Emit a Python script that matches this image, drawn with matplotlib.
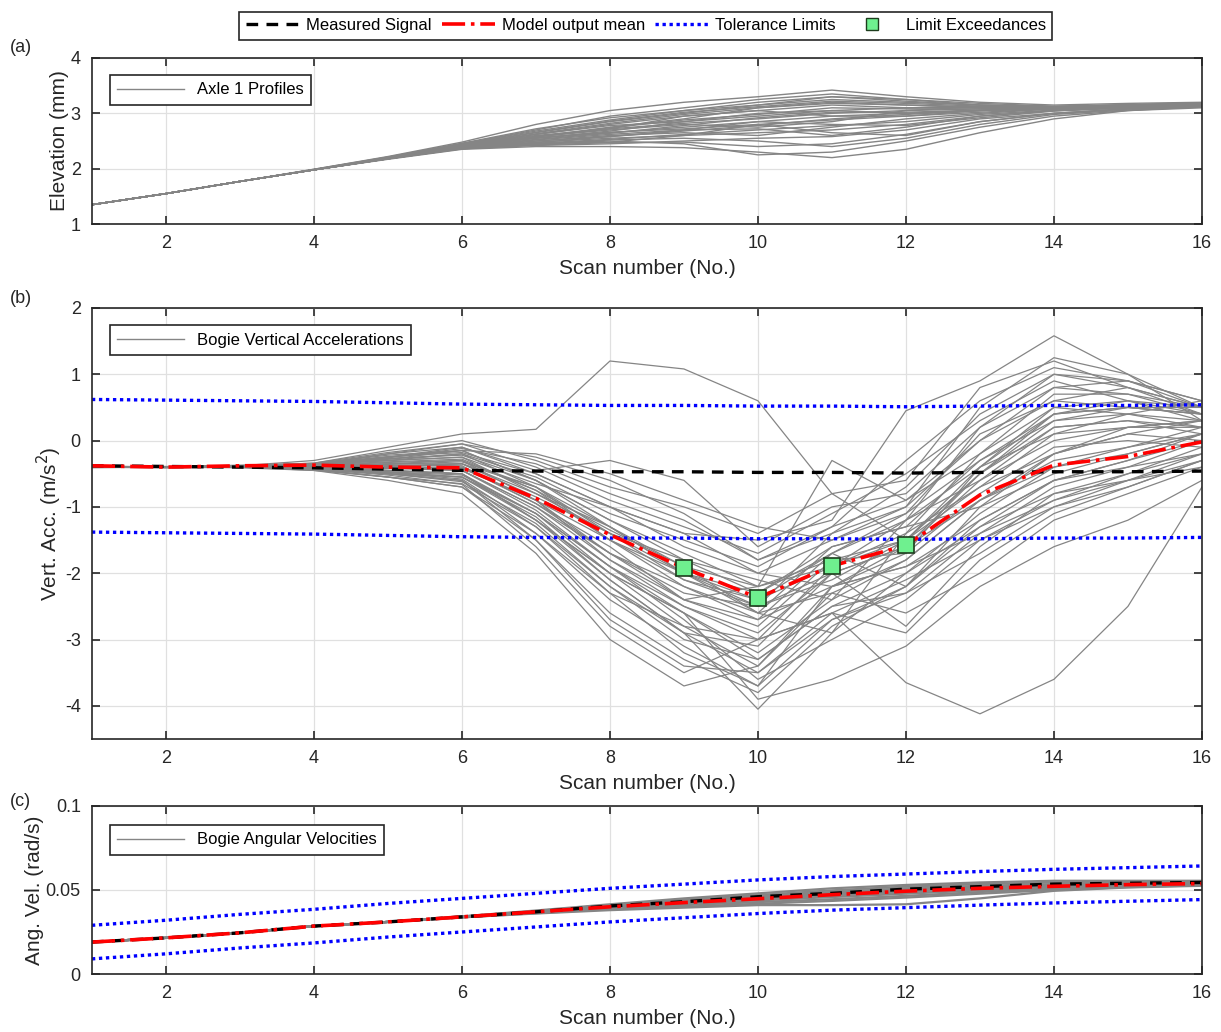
from matplotlib import pyplot as plt
from matplotlib.lines import Line2D
import numpy as np

plt.rcParams['font.family'] = ['Liberation Sans', 'DejaVu Sans']
plt.rcParams['axes.unicode_minus'] = False

scans = np.arange(1, 17)

# (a) axle 1 elevation profiles (mm)
axle_profiles = [
    [1.35, 1.55, 1.77, 1.99, 2.22, 2.48, 2.80, 3.05, 3.20, 3.30, 3.42, 3.30, 3.20, 3.15, 3.18, 3.20],
    [1.35, 1.55, 1.77, 1.98, 2.17, 2.35, 2.40, 2.40, 2.38, 2.30, 2.20, 2.35, 2.65, 2.90, 3.05, 3.12],
    [1.35, 1.55, 1.77, 1.98, 2.18, 2.38, 2.45, 2.50, 2.45, 2.25, 2.30, 2.50, 2.75, 2.95, 3.05, 3.10],
    [1.35, 1.55, 1.77, 1.99, 2.21, 2.45, 2.70, 2.95, 3.10, 3.25, 3.35, 3.25, 3.15, 3.12, 3.15, 3.18],
    [1.35, 1.55, 1.77, 1.98, 2.20, 2.42, 2.62, 2.80, 2.95, 3.05, 3.15, 3.10, 3.10, 3.10, 3.15, 3.18],
    [1.35, 1.55, 1.77, 1.98, 2.19, 2.40, 2.55, 2.65, 2.75, 2.85, 2.95, 3.00, 3.05, 3.08, 3.12, 3.15],
    [1.35, 1.55, 1.77, 1.98, 2.18, 2.38, 2.48, 2.55, 2.60, 2.65, 2.70, 2.80, 2.95, 3.05, 3.10, 3.15],
    [1.35, 1.55, 1.77, 1.98, 2.19, 2.40, 2.58, 2.75, 2.90, 3.10, 3.20, 3.15, 3.10, 3.10, 3.12, 3.16],
    [1.35, 1.55, 1.77, 1.98, 2.18, 2.36, 2.42, 2.45, 2.50, 2.55, 2.58, 2.70, 2.90, 3.00, 3.08, 3.14],
    [1.35, 1.55, 1.77, 1.98, 2.20, 2.44, 2.65, 2.85, 3.00, 3.15, 3.25, 3.20, 3.15, 3.12, 3.14, 3.18],
    [1.35, 1.55, 1.77, 1.98, 2.19, 2.41, 2.58, 2.70, 2.80, 2.75, 2.85, 3.05, 3.12, 3.12, 3.15, 3.17],
    [1.35, 1.55, 1.77, 1.98, 2.18, 2.37, 2.45, 2.48, 2.60, 2.80, 2.65, 2.60, 2.85, 3.00, 3.08, 3.12],
    [1.35, 1.55, 1.77, 1.98, 2.19, 2.39, 2.52, 2.62, 2.70, 2.72, 2.60, 2.75, 2.95, 3.05, 3.10, 3.14],
    [1.35, 1.55, 1.77, 1.98, 2.20, 2.43, 2.62, 2.78, 2.85, 2.95, 3.05, 3.10, 3.12, 3.12, 3.14, 3.17],
    [1.35, 1.55, 1.77, 1.98, 2.18, 2.37, 2.43, 2.47, 2.48, 2.40, 2.45, 2.62, 2.85, 3.00, 3.08, 3.13],
    [1.35, 1.55, 1.77, 1.98, 2.19, 2.40, 2.55, 2.68, 2.85, 3.00, 3.05, 3.00, 3.05, 3.10, 3.13, 3.16],
    [1.35, 1.55, 1.77, 1.98, 2.21, 2.46, 2.72, 2.92, 3.05, 3.15, 3.30, 3.22, 3.15, 3.12, 3.16, 3.19],
    [1.35, 1.55, 1.77, 1.98, 2.18, 2.36, 2.44, 2.52, 2.55, 2.50, 2.40, 2.55, 2.80, 2.98, 3.06, 3.12],
    [1.35, 1.55, 1.77, 1.98, 2.19, 2.39, 2.50, 2.60, 2.65, 2.60, 2.75, 2.90, 3.00, 3.08, 3.12, 3.15],
    [1.35, 1.55, 1.77, 1.98, 2.20, 2.42, 2.60, 2.72, 2.95, 3.05, 2.95, 2.95, 3.05, 3.10, 3.14, 3.17],
    [1.35, 1.55, 1.77, 1.98, 2.20, 2.45, 2.68, 2.88, 3.05, 3.20, 3.30, 3.25, 3.18, 3.13, 3.15, 3.18],
    [1.35, 1.55, 1.77, 1.98, 2.19, 2.40, 2.58, 2.72, 2.82, 2.90, 3.00, 3.05, 3.08, 3.10, 3.13, 3.16],
    [1.35, 1.55, 1.77, 1.98, 2.18, 2.37, 2.46, 2.53, 2.62, 2.70, 2.78, 2.85, 2.98, 3.06, 3.11, 3.14],
    [1.35, 1.55, 1.77, 1.98, 2.20, 2.43, 2.63, 2.82, 2.98, 3.10, 3.18, 3.15, 3.12, 3.11, 3.14, 3.17],
    [1.35, 1.55, 1.77, 1.98, 2.19, 2.41, 2.56, 2.66, 2.72, 2.80, 2.88, 2.95, 3.02, 3.08, 3.12, 3.15],
    [1.35, 1.55, 1.77, 1.98, 2.18, 2.38, 2.50, 2.58, 2.68, 2.78, 2.90, 2.98, 3.05, 3.09, 3.12, 3.15],
    [1.35, 1.55, 1.77, 1.98, 2.20, 2.44, 2.66, 2.86, 3.02, 3.12, 3.22, 3.18, 3.13, 3.11, 3.14, 3.18],
    [1.35, 1.55, 1.77, 1.98, 2.19, 2.39, 2.53, 2.64, 2.78, 2.92, 3.02, 3.02, 3.06, 3.09, 3.13, 3.16],
    [1.35, 1.55, 1.77, 1.98, 2.18, 2.37, 2.47, 2.58, 2.70, 2.85, 2.80, 2.78, 2.92, 3.04, 3.10, 3.14],
    [1.35, 1.55, 1.77, 1.98, 2.19, 2.40, 2.57, 2.74, 2.88, 2.98, 3.10, 3.08, 3.08, 3.10, 3.13, 3.17],
]

# (b) bogie vertical accelerations (m/s^2)
acc_runs = [
    [-0.40, -0.40, -0.38, -0.30, -0.10, 0.10, 0.17, 1.20, 1.08, 0.60, -0.80, -1.50, -0.50, 0.40, 0.50, 0.40],
    [-0.40, -0.40, -0.40, -0.45, -0.55, -0.70, -1.40, -2.30, -2.80, -3.00, -2.60, -3.65, -4.12, -3.60, -2.50, -0.70],
    [-0.39, -0.40, -0.39, -0.40, -0.45, -0.50, -1.20, -2.00, -2.60, -3.20, -2.40, -1.80, -0.90, -0.30, -0.10, 0.10],
    [-0.40, -0.41, -0.40, -0.42, -0.50, -0.60, -1.50, -2.60, -3.30, -3.80, -2.80, -2.20, -1.20, -0.60, -0.30, 0.00],
    [-0.38, -0.40, -0.37, -0.35, -0.30, -0.25, -0.80, -1.40, -2.00, -2.40, -1.70, -1.20, 0.20, 1.00, 0.90, 0.50],
    [-0.40, -0.40, -0.38, -0.36, -0.20, -0.10, -0.50, -1.00, -1.60, -2.00, -1.50, -1.00, 0.50, 1.25, 1.00, 0.30],
    [-0.40, -0.40, -0.39, -0.38, -0.35, -0.30, -0.90, -1.80, -2.50, -2.90, -2.00, -1.60, -0.50, 0.20, 0.30, 0.20],
    [-0.40, -0.40, -0.41, -0.45, -0.60, -0.80, -1.70, -3.00, -3.70, -3.40, -2.30, -2.60, -2.00, -1.20, -0.80, -0.40],
    [-0.40, -0.39, -0.38, -0.35, -0.25, -0.15, -0.60, -1.20, -1.70, -2.20, -1.90, -1.40, -0.70, 0.10, 0.40, 0.60],
    [-0.41, -0.40, -0.40, -0.40, -0.40, -0.35, -0.80, -1.30, -1.90, -2.60, -1.60, -1.30, -1.00, -0.20, 0.10, 0.30],
    [-0.40, -0.40, -0.39, -0.37, -0.30, -0.20, -0.70, -1.50, -2.20, -2.70, -2.20, -1.90, -1.20, -0.60, -0.40, -0.20],
    [-0.40, -0.40, -0.40, -0.42, -0.48, -0.55, -1.10, -1.90, -2.70, -3.60, -3.00, -2.40, -1.50, -0.90, -0.60, -0.30],
    [-0.39, -0.40, -0.38, -0.34, -0.15, 0.00, -0.30, -0.70, -1.00, -1.40, -0.80, -0.60, 0.80, 1.20, 0.80, 0.40],
    [-0.40, -0.40, -0.39, -0.38, -0.40, -0.45, -1.00, -1.70, -2.30, -2.50, -2.10, -1.50, -0.40, 0.50, 0.60, 0.30],
    [-0.40, -0.41, -0.40, -0.44, -0.55, -0.65, -1.30, -2.20, -3.00, -3.30, -2.50, -2.00, -1.10, -0.40, -0.20, 0.10],
    [-0.40, -0.40, -0.38, -0.36, -0.28, -0.20, -0.55, -1.10, -1.50, -1.90, -1.30, -0.90, -0.20, 0.70, 0.70, 0.50],
    [-0.40, -0.40, -0.39, -0.39, -0.42, -0.40, -0.95, -1.60, -2.40, -2.80, -1.80, -1.70, -0.80, -0.10, 0.00, -0.10],
    [-0.40, -0.40, -0.40, -0.41, -0.45, -0.50, -1.20, -2.10, -2.90, -3.10, -2.00, -2.80, -1.60, -0.80, -0.50, -0.20],
    [-0.40, -0.40, -0.38, -0.35, -0.20, -0.05, -0.40, -0.90, -1.30, -1.70, -1.10, -0.50, 0.30, 0.90, 0.60, 0.40],
    [-0.40, -0.40, -0.39, -0.38, -0.33, -0.30, -0.75, -1.50, -2.00, -2.30, -1.60, -1.30, -0.30, 0.40, 0.50, 0.50],
    [-0.40, -0.40, -0.40, -0.43, -0.50, -0.60, -1.40, -2.40, -3.10, -3.70, -2.70, -2.30, -1.40, -0.70, -0.40, 0.00],
    [-0.40, -0.40, -0.39, -0.37, -0.35, -0.35, -0.85, -1.40, -1.80, -2.10, -2.40, -1.20, -0.60, 0.00, 0.20, 0.20],
    [-0.40, -0.40, -0.38, -0.36, -0.30, -0.25, -0.65, -1.00, -1.40, -1.50, -1.20, 0.45, 0.90, 1.58, 1.00, 0.50],
    [-0.40, -0.40, -0.39, -0.38, -0.40, -0.45, -1.00, -1.80, -2.40, -2.20, -0.30, -0.90, 0.00, 0.60, 0.50, 0.40],
    [-0.40, -0.40, -0.40, -0.42, -0.50, -0.55, -1.20, -2.00, -2.60, -3.90, -3.60, -3.10, -2.20, -1.60, -1.20, -0.60],
    [-0.40, -0.40, -0.39, -0.38, -0.38, -0.35, -0.70, -1.30, -2.00, -2.50, -1.40, -1.00, 0.00, 0.80, 0.90, 0.60],
    [-0.40, -0.40, -0.40, -0.40, -0.45, -0.50, -1.10, -1.90, -2.50, -3.00, -1.90, -1.50, -0.70, -0.20, 0.10, 0.00],
    [-0.40, -0.40, -0.39, -0.37, -0.25, -0.10, -0.45, -0.30, -0.60, -1.60, -1.00, -0.80, 0.20, 0.80, 0.70, 0.40],
    [-0.40, -0.40, -0.40, -0.41, -0.47, -0.55, -1.15, -2.10, -2.90, -4.05, -2.90, -2.00, -1.30, -0.60, -0.30, 0.10],
    [-0.40, -0.40, -0.39, -0.39, -0.40, -0.40, -0.90, -1.70, -2.20, -2.60, -2.30, -1.80, -0.90, -0.20, 0.20, 0.30],
    [-0.40, -0.40, -0.38, -0.35, -0.22, -0.15, -0.60, -1.20, -1.80, -2.30, -1.70, -1.10, 0.10, 0.60, 0.80, 0.50],
    [-0.40, -0.40, -0.40, -0.43, -0.55, -0.70, -1.50, -2.70, -3.40, -3.50, -2.60, -2.10, -1.50, -1.00, -0.70, -0.30],
    [-0.40, -0.40, -0.39, -0.37, -0.28, -0.15, -0.20, -0.50, -0.90, -1.30, -1.50, -1.10, -0.30, 0.30, 0.40, 0.30],
    [-0.40, -0.40, -0.40, -0.42, -0.50, -0.62, -1.25, -2.20, -2.90, -3.50, -2.70, -2.20, -1.30, -0.80, -0.60, -0.40],
    [-0.40, -0.40, -0.39, -0.38, -0.36, -0.32, -0.70, -1.40, -2.10, -2.50, -2.00, -1.60, -0.60, 0.20, 0.30, 0.10],
    [-0.40, -0.40, -0.38, -0.36, -0.26, -0.12, -0.35, -0.80, -1.20, -1.80, -1.40, -0.70, 0.40, 1.00, 0.80, 0.50],
    [-0.40, -0.40, -0.40, -0.41, -0.48, -0.58, -1.30, -2.30, -3.20, -3.70, -2.20, -1.90, -1.40, -0.90, -0.50, -0.10],
    [-0.40, -0.40, -0.39, -0.39, -0.42, -0.45, -1.05, -1.90, -2.60, -3.30, -2.50, -2.30, -1.70, -1.00, -0.60, -0.20],
    [-0.40, -0.40, -0.39, -0.37, -0.32, -0.28, -0.75, -1.35, -1.90, -2.20, -1.80, -1.50, -0.50, 0.30, 0.50, 0.40],
    [-0.40, -0.40, -0.40, -0.43, -0.52, -0.66, -1.60, -2.80, -3.50, -3.00, -2.60, -2.90, -1.80, -1.10, -0.70, -0.30],
    [-0.40, -0.40, -0.38, -0.35, -0.24, -0.18, -0.50, -1.00, -1.40, -2.00, -2.20, -1.70, -0.40, 0.40, 0.60, 0.50],
    [-0.40, -0.40, -0.39, -0.38, -0.37, -0.38, -0.95, -1.70, -2.40, -2.70, -1.70, -2.20, -1.00, -0.50, -0.20, 0.10],
    [-0.40, -0.40, -0.39, -0.36, -0.27, -0.22, -0.60, -1.30, -2.00, -2.60, -2.90, -1.40, -0.20, 0.50, 0.40, 0.20],
    [-0.40, -0.40, -0.40, -0.42, -0.47, -0.52, -1.10, -2.00, -2.80, -3.40, -2.20, -1.60, -0.90, -0.40, -0.10, 0.20],
    [-0.40, -0.40, -0.38, -0.34, -0.18, -0.05, -0.25, -0.60, -1.10, -1.80, -1.30, -0.30, 0.60, 1.10, 0.90, 0.60],
    [-0.40, -0.40, -0.39, -0.38, -0.39, -0.42, -0.90, -1.50, -2.10, -2.40, -1.90, -1.20, -0.40, 0.10, 0.20, 0.30],
]
acc_measured = [-0.38, -0.39, -0.40, -0.41, -0.43, -0.45, -0.46, -0.47, -0.47, -0.48, -0.48, -0.49, -0.48, -0.47, -0.47, -0.46]
acc_mean = [-0.38, -0.40, -0.38, -0.37, -0.40, -0.41, -0.87, -1.42, -1.92, -2.37, -1.89, -1.58, -0.82, -0.37, -0.24, -0.02]
acc_upper = [0.62, 0.61, 0.60, 0.59, 0.57, 0.55, 0.54, 0.53, 0.53, 0.52, 0.52, 0.51, 0.52, 0.53, 0.53, 0.54]
acc_lower = [-1.38, -1.39, -1.40, -1.41, -1.43, -1.45, -1.46, -1.47, -1.47, -1.48, -1.48, -1.49, -1.48, -1.47, -1.47, -1.46]
exceed_scans = [9, 10, 11, 12]
exceed_vals = [-1.92, -2.37, -1.89, -1.58]

# (c) bogie angular velocities (rad/s)
angvel_runs = [
    [0.019, 0.0215, 0.0245, 0.0285, 0.031, 0.0343, 0.0378, 0.0415, 0.0450, 0.0480, 0.0510, 0.0530, 0.0545, 0.0555, 0.0555, 0.0555],
    [0.019, 0.0215, 0.0245, 0.0285, 0.031, 0.0337, 0.0362, 0.0385, 0.0400, 0.0418, 0.0435, 0.0455, 0.0478, 0.0500, 0.0517, 0.0528],
    [0.019, 0.0215, 0.0245, 0.0285, 0.031, 0.0341, 0.0372, 0.0405, 0.0435, 0.0462, 0.0488, 0.0510, 0.0525, 0.0535, 0.0542, 0.0546],
    [0.019, 0.0215, 0.0245, 0.0285, 0.031, 0.0339, 0.0366, 0.0395, 0.0418, 0.0438, 0.0458, 0.0478, 0.0498, 0.0515, 0.0527, 0.0534],
    [0.019, 0.0215, 0.0245, 0.0285, 0.031, 0.0340, 0.0370, 0.0400, 0.0428, 0.0452, 0.0475, 0.0495, 0.0512, 0.0525, 0.0534, 0.0540],
    [0.019, 0.0215, 0.0245, 0.0285, 0.031, 0.0342, 0.0375, 0.0410, 0.0442, 0.0470, 0.0498, 0.0520, 0.0535, 0.0545, 0.0550, 0.0552],
    [0.019, 0.0215, 0.0245, 0.0285, 0.031, 0.0338, 0.0364, 0.0390, 0.0410, 0.0428, 0.0445, 0.0465, 0.0488, 0.0508, 0.0522, 0.0531],
    [0.019, 0.0215, 0.0245, 0.0285, 0.031, 0.0337, 0.0360, 0.0380, 0.0395, 0.0410, 0.0410, 0.0415, 0.0450, 0.0495, 0.0515, 0.0525],
    [0.019, 0.0215, 0.0245, 0.0285, 0.031, 0.0341, 0.0373, 0.0403, 0.0432, 0.0458, 0.0482, 0.0502, 0.0518, 0.0530, 0.0538, 0.0543],
    [0.019, 0.0215, 0.0245, 0.0285, 0.031, 0.0339, 0.0368, 0.0398, 0.0422, 0.0445, 0.0466, 0.0486, 0.0505, 0.0520, 0.0530, 0.0537],
]
angvel_measured = [0.019, 0.0215, 0.0245, 0.0285, 0.031, 0.034, 0.037, 0.0405, 0.043, 0.046, 0.048, 0.0505, 0.052, 0.0535, 0.054, 0.0545]
angvel_mean = [0.019, 0.0215, 0.0245, 0.0285, 0.031, 0.034, 0.037, 0.040, 0.0425, 0.0448, 0.0472, 0.0493, 0.051, 0.0522, 0.0532, 0.0538]
angvel_upper = [0.029, 0.032, 0.0355, 0.0385, 0.042, 0.045, 0.048, 0.051, 0.0535, 0.056, 0.058, 0.0595, 0.061, 0.0623, 0.0633, 0.0643]
angvel_lower = [0.009, 0.012, 0.0155, 0.0185, 0.022, 0.025, 0.028, 0.031, 0.0335, 0.036, 0.038, 0.0395, 0.041, 0.0423, 0.0433, 0.0443]

gray = '#858585'
green = '#6ff08f'
dotted = (0, (1, 1.1))
dashed = (0, (3.5, 2.5))

fig = plt.figure(figsize=(12.21, 10.32), dpi=100)
ax1 = fig.add_axes([0.0753, 0.7829, 0.9091, 0.1609])
ax2 = fig.add_axes([0.0753, 0.2839, 0.9091, 0.4177])
ax3 = fig.add_axes([0.0753, 0.0562, 0.9091, 0.1628])


def style(ax, ylim, yticks, ylabel, ytick_labels=None):
    ax.set_xlim(1, 16)
    ax.set_ylim(*ylim)
    ax.set_xticks(range(2, 17, 2))
    ax.set_yticks(yticks)
    if ytick_labels is not None:
        ax.set_yticklabels(ytick_labels)
    ax.grid(True, color='#e0e0e0', linewidth=0.9)
    ax.set_axisbelow(True)
    ax.tick_params(direction='in', top=True, right=True, length=6, width=1.2,
                   labelsize=13, color='#262626', labelcolor='#262626', pad=8)
    for s in ax.spines.values():
        s.set_color('#262626')
        s.set_linewidth(1.2)
    ax.set_xlabel('Scan number (No.)', fontsize=15, color='#262626', labelpad=5)
    ax.set_ylabel(ylabel, fontsize=15, color='#262626', labelpad=1)


def inner_legend(ax, label, ypos):
    h = Line2D([], [], color=gray, linewidth=1)
    leg = ax.legend([h], [label], loc='upper left', bbox_to_anchor=(0.016, ypos),
                    borderaxespad=0, fontsize=12, fancybox=False, framealpha=1,
                    edgecolor='#262626', handlelength=4, borderpad=0.45)
    leg.get_frame().set_linewidth(1.2)


# (a)
for run in axle_profiles:
    ax1.plot(scans, run, color=gray, linewidth=1.0)
style(ax1, (1, 4), [1, 2, 3, 4], 'Elevation (mm)')
inner_legend(ax1, 'Axle 1 Profiles', 0.898)

# (b)
for run in acc_runs:
    ax2.plot(scans, run, color=gray, linewidth=0.9)
ax2.plot(scans, acc_upper, color='#0000ff', linestyle=dotted, linewidth=2.4)
ax2.plot(scans, acc_lower, color='#0000ff', linestyle=dotted, linewidth=2.4)
ax2.plot(scans, acc_measured, color='black', linestyle=dashed, linewidth=2.4)
ax2.plot(scans, acc_mean, color='red', linestyle='-.', linewidth=2.6)
ax2.plot(exceed_scans, exceed_vals, linestyle='none', marker='s', markersize=11,
         markerfacecolor=green, markeredgecolor='#1d3d1d', markeredgewidth=1.2)
style(ax2, (-4.5, 2), [-4, -3, -2, -1, 0, 1, 2], 'Vert. Acc. (m/s$^2$)')
inner_legend(ax2, 'Bogie Vertical Accelerations', 0.96)

# (c)
for run in angvel_runs:
    ax3.plot(scans, run, color=gray, linewidth=1.6)
ax3.plot(scans, angvel_upper, color='#0000ff', linestyle=dotted, linewidth=2.4)
ax3.plot(scans, angvel_lower, color='#0000ff', linestyle=dotted, linewidth=2.4)
ax3.plot(scans, angvel_measured, color='black', linestyle=dashed, linewidth=2.4)
ax3.plot(scans, angvel_mean, color='red', linestyle='-.', linewidth=2.6)
style(ax3, (0, 0.1), [0, 0.05, 0.1], 'Ang. Vel. (rad/s)', ['0', '0.05', '0.1'])
inner_legend(ax3, 'Bogie Angular Velocities', 0.887)

# shared legend on top
handles = [
    Line2D([], [], color='black', linestyle=dashed, linewidth=2.4),
    Line2D([], [], color='red', linestyle='-.', linewidth=2.6),
    Line2D([], [], color='#0000ff', linestyle=dotted, linewidth=2.4),
    Line2D([], [], linestyle='none', marker='s', markersize=8,
           markerfacecolor=green, markeredgecolor='#1d3d1d'),
]
labels = ['Measured Signal', 'Model output mean', 'Tolerance Limits', 'Limit Exceedances']
top = fig.legend(handles, labels, loc='center', bbox_to_anchor=(0.529, 0.975), ncol=4,
                 fontsize=12, fancybox=False, framealpha=1, edgecolor='#262626',
                 handlelength=3.2, columnspacing=0.6, handletextpad=0.4, borderpad=0.4)
top.get_frame().set_linewidth(1.2)

fig.text(0.008, 0.950, '(a)', fontsize=13, color='#262626')
fig.text(0.008, 0.706, '(b)', fontsize=13, color='#262626')
fig.text(0.008, 0.219, '(c)', fontsize=13, color='#262626')

plt.savefig('out.png', dpi=100)
